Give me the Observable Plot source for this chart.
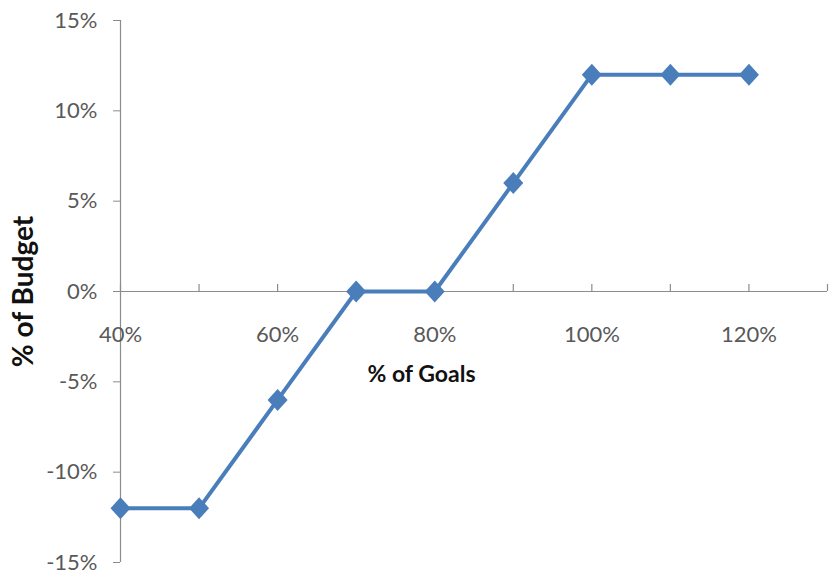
<!DOCTYPE html>
<html>
<head>
<meta charset="utf-8">
<script src="https://cdn.jsdelivr.net/npm/d3@7"></script>
<script src="https://cdn.jsdelivr.net/npm/@observablehq/plot@0.6"></script>
<style>
  body { margin: 0; background: #fff; }
  #chart svg { display: block; }
</style>
</head>
<body>
<div id="chart"></div>
<script>
// Budget adjustment as a function of goal attainment
const goals  = [0.4, 0.5, 0.6, 0.7, 0.8, 0.9, 1.0, 1.1, 1.2];
const budget = [-0.12, -0.12, -0.06, 0, 0, 0.06, 0.12, 0.12, 0.12];

const xTicks  = [0.4, 0.5, 0.6, 0.7, 0.8, 0.9, 1.0, 1.1, 1.2, 1.3];
const xLabels = [0.4, 0.6, 0.8, 1.0, 1.2];
const yTicks  = [-0.15, -0.10, -0.05, 0, 0.05, 0.10, 0.15];

const xTitle = "% of Goals";
const yTitle = "% of Budget";

const rows = goals.map((g, i) => ({goal: g, budget: budget[i]}));
const pct = d => `${Math.round(d * 100)}%`;

const blue = "#4a7ebb";
const axisGray = "#8c8c8c";
const labelGray = "#595959";

// Diamond marker, a touch taller than wide
const diamond = {
  draw(ctx, size) {
    const w = Math.sqrt(size / Math.PI);
    const h = w * 1.1;
    ctx.moveTo(0, -h);
    ctx.lineTo(w, 0);
    ctx.lineTo(0, h);
    ctx.lineTo(-w, 0);
    ctx.closePath();
  }
};

const chart = Plot.plot({
  width: 829,
  height: 573,
  marginLeft: 120,
  marginRight: 2,
  marginTop: 20,
  marginBottom: 11,
  style: {fontFamily: "Lato, 'Open Sans', sans-serif", background: "#fff"},
  x: {domain: [0.4, 1.3], axis: null},
  y: {domain: [-0.15, 0.15]},
  marks: [
    // vertical axis line and ticks
    Plot.ruleX([0.4], {stroke: axisGray, strokeWidth: 1.2}),
    Plot.axisY(yTicks, {
      tickFormat: pct, tickSize: 7, tickPadding: 16,
      fontSize: 22, fill: labelGray, stroke: axisGray, label: null
    }),
    // horizontal axis drawn through zero, with upward ticks
    Plot.ruleY([0], {stroke: axisGray, strokeWidth: 1.2}),
    Plot.ruleX(xTicks, {x: d => d, y1: 0, y2: 0, insetTop: -7, stroke: axisGray, strokeWidth: 1.2}),
    Plot.text(xLabels, {x: d => d, y: 0, dy: 43, text: pct, fontSize: 22, fill: labelGray}),
    // axis titles
    Plot.text([xTitle], {frameAnchor: "top-left", dx: 301, dy: 354, text: d => d,
      textAnchor: "middle", lineAnchor: "middle",
      fontSize: 23, fontWeight: "bold", fill: "#111"}),
    Plot.text([yTitle], {frameAnchor: "left", dx: -96, rotate: -90, text: d => d,
      textAnchor: "middle", lineAnchor: "middle",
      fontSize: 28, fontWeight: "bold", fill: "#111"}),
    // series
    Plot.line(rows, {x: "goal", y: "budget", stroke: blue, strokeWidth: 4}),
    Plot.dot(rows, {x: "goal", y: "budget", symbol: diamond, r: 10, fill: blue, stroke: "none"})
  ]
});

document.getElementById("chart").append(chart);
</script>
</body>
</html>
